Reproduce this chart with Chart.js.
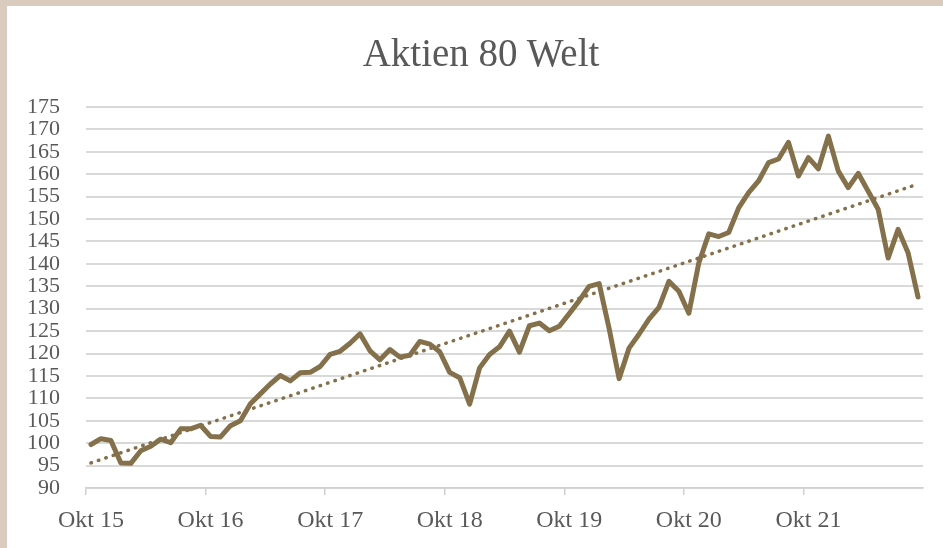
<!DOCTYPE html>
<html>
<head>
<meta charset="utf-8">
<script src="https://cdn.jsdelivr.net/npm/chart.js@4"></script>
<style>
    body { margin: 0; background: #ffffff; overflow: hidden; }
    #frame {
        position: relative;
        width: 943px;
        height: 548px;
        box-sizing: border-box;
        border-top: 6px solid #d9cbbd;
        border-left: 7px solid #d9cbbd;
        background: #ffffff;
    }
    #title {
        position: absolute;
        left: -7px;
        top: 27px;
        width: 962px;
        text-align: center;
        font-family: 'Liberation Serif', 'Times New Roman', serif;
        font-size: 39px;
        line-height: 39px;
        color: #595959;
    }
    #chart { display: block; }
</style>
</head>
<body>
<div id="frame">
    <div id="title">Aktien 80 Welt</div>
    <canvas id="chart" width="936" height="542"></canvas>
</div>
<script>
// Monthly index values, Okt 15 .. Sep 22
const monthNames = ['Okt', 'Nov', 'Dez', 'Jan', 'Feb', 'Mär', 'Apr', 'Mai', 'Jun', 'Jul', 'Aug', 'Sep'];
const yearLabels = ['15', '16', '17', '18', '19', '20', '21'];

const indexValues = [
    99.7, 101.0, 100.6, 95.6, 95.5, 98.3, 99.3, 100.9, 100.1, 103.2, 103.2, 104.0,
    101.5, 101.4, 103.9, 105.0, 108.8, 111.0, 113.2, 115.1, 113.9, 115.7, 115.8, 117.1,
    119.8, 120.5, 122.3, 124.4, 120.6, 118.6, 120.9, 119.2, 119.6, 122.7, 122.1, 120.4,
    115.8, 114.6, 108.7, 116.8, 119.8, 121.5, 125.0, 120.3, 126.2, 126.8, 125.1, 126.1,
    128.9, 131.8, 135.0, 135.6, 125.6, 114.4, 121.2, 124.3, 127.7, 130.3, 136.1, 133.9,
    129.0, 140.2, 146.7, 146.1, 147.0, 152.5, 155.9, 158.5, 162.6, 163.4, 167.1, 159.6,
    163.7, 161.2, 168.5, 160.7, 157.0, 160.2, 156.2, 152.2, 141.3, 147.7, 142.5, 132.6
];

// Linear trend line: start and end values
const trendStart = 95.6;
const trendEnd = 157.8;

// Build category labels, e.g. "Okt 15", "Nov 15", ... "Sep 22"
const labels = [];
for (let i = 0; i < indexValues.length; i++) {
    const m = i % 12;
    const yearIdx = Math.floor(i / 12) + (m >= 3 ? 1 : 0);
    labels.push(monthNames[m] + ' ' + String(15 + yearIdx));
}

const trendValues = labels.map((_, i) => {
    if (i === 0) return trendStart;
    if (i === labels.length - 1) return trendEnd;
    return null;
});

const lineColor = '#84704a';
const gridColor = '#d9d9d9';
const textColor = '#595959';
const fontFamily = "'Liberation Serif', 'Times New Roman', serif";

const ctx = document.getElementById('chart');
new Chart(ctx, {
    type: 'line',
    data: {
        labels: labels,
        datasets: [
            {
                label: 'Aktien 80 Welt',
                data: indexValues,
                borderColor: lineColor,
                borderWidth: 5,
                borderJoinStyle: 'round',
                borderCapStyle: 'round',
                pointRadius: 0,
                tension: 0,
                fill: false
            },
            {
                label: 'Trend',
                data: trendValues,
                borderColor: lineColor,
                borderWidth: 3.5,
                borderCapStyle: 'round',
                borderDash: [0.5, 7.3],
                pointRadius: 0,
                spanGaps: true,
                tension: 0,
                fill: false
            }
        ]
    },
    options: {
        responsive: false,
        animation: false,
        devicePixelRatio: 1,
        layout: {
            padding: { left: 0, right: 20, top: 101, bottom: 0 }
        },
        plugins: {
            legend: { display: false },
            tooltip: { enabled: false },
            title: { display: false }
        },
        scales: {
            x: {
                type: 'category',
                offset: true,
                grid: {
                    offset: true,
                    drawOnChartArea: false,
                    drawTicks: true,
                    tickLength: 7,
                    lineWidth: 1.5,
                    color: (c) => (c.index % 12 === 0 ? '#d0d0d0' : 'rgba(0,0,0,0)')
                },
                border: { display: true, color: '#d0d0d0', width: 1.5 },
                ticks: {
                    autoSkip: false,
                    maxRotation: 0,
                    minRotation: 0,
                    padding: 11,
                    color: textColor,
                    font: { family: fontFamily, size: 24 },
                    callback: function (value, index) {
                        if (index % 12 === 0) {
                            return 'Okt ' + yearLabels[index / 12];
                        }
                        return '';
                    }
                },
                afterFit: (scale) => { scale.height = 60; }
            },
            y: {
                min: 90,
                max: 175,
                grid: {
                    color: gridColor,
                    lineWidth: 2,
                    drawTicks: false
                },
                border: { display: false },
                ticks: {
                    stepSize: 5,
                    autoSkip: false,
                    padding: 26,
                    color: textColor,
                    font: { family: fontFamily, size: 22 }
                },
                afterFit: (scale) => { scale.width = 79; }
            }
        }
    }
});
</script>
</body>
</html>
